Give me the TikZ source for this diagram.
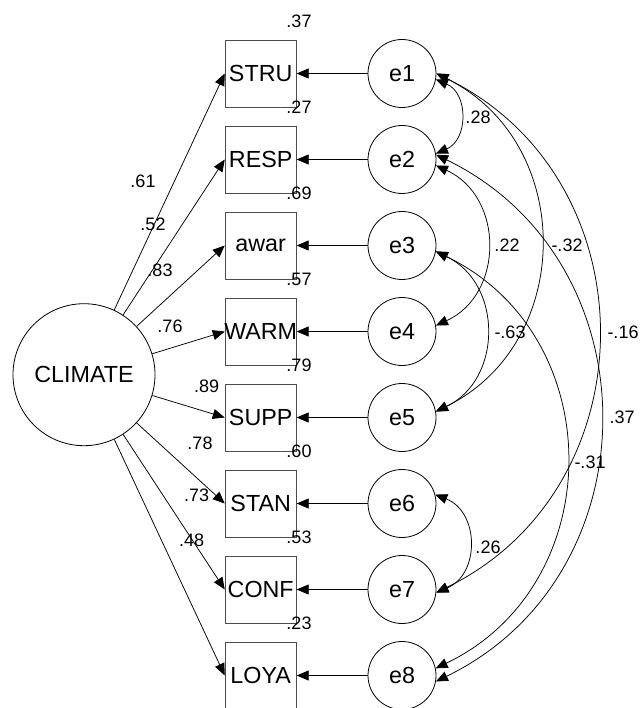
\documentclass[tikz,border=0pt]{standalone}
\usepackage{fontspec}
\setmainfont{Liberation Sans}
\usetikzlibrary{arrows.meta}
\newcommand\zbox[1]{\makebox[0pt]{#1}}
\begin{document}
\begin{tikzpicture}[x=1pt,y=-1pt,
  obs/.style={draw=black!70, line width=0.9pt, minimum width=71pt, minimum height=67pt, inner sep=0pt, font=\fontsize{23.3}{25}\selectfont},
  err/.style={draw, circle, line width=0.8pt, minimum size=68pt, inner sep=0pt, font=\fontsize{23.3}{25}\selectfont},
  lat/.style={draw, circle, line width=0.8pt, minimum size=142pt, inner sep=0pt, font=\fontsize{23.3}{25}\selectfont},
  num/.style={font=\fontsize{18}{20}\selectfont, inner sep=0pt},
  arr/.style={-{Triangle[length=12pt,width=10pt]}, line width=0.75pt},
  cov/.style={{Triangle[length=12pt,width=10pt]}-{Triangle[length=12pt,width=10pt]}, line width=0.75pt}
]
\useasboundingbox (0,0) rectangle (641,708);

% latent
\node[lat] (clim) at (84,374.7) {CLIMATE};

% observed boxes
\node[obs] (stru) at (260.7,73.5)  {\zbox{STRU}};
\node[obs] (resp) at (260.7,159.5) {\zbox{RESP}};
\node[obs] (awar) at (260.7,245.5) {\zbox{awar}};
\node[obs] (warm) at (260.7,331.5) {\zbox{WARM}};
\node[obs] (supp) at (260.7,417.5) {\zbox{SUPP}};
\node[obs] (stan) at (260.7,503.5) {\zbox{STAN}};
\node[obs] (conf) at (260.7,589.5) {\zbox{CONF}};
\node[obs] (loya) at (260.7,675.5) {\zbox{LOYA}};

% error circles
\node[err] (e1) at (402,73.5)  {e1};
\node[err] (e2) at (402,159.5) {e2};
\node[err] (e3) at (402,245.5) {e3};
\node[err] (e4) at (402,331.5) {e4};
\node[err] (e5) at (402,417.5) {e5};
\node[err] (e6) at (402,503.5) {e6};
\node[err] (e7) at (402,589.5) {e7};
\node[err] (e8) at (402,675.5) {e8};

% loadings
\foreach \b in {stru,resp,awar,warm,supp,stan,conf,loya}
  \draw[arr] (clim) -- (\b.west);

% error paths
\draw[arr] (e1) -- (stru);
\draw[arr] (e2) -- (resp);
\draw[arr] (e3) -- (awar);
\draw[arr] (e4) -- (warm);
\draw[arr] (e5) -- (supp);
\draw[arr] (e6) -- (stan);
\draw[arr] (e7) -- (conf);
\draw[arr] (e8) -- (loya);

% covariances
\draw[cov] (e1.-10) to[bend left=67, looseness=1.225] (e2.10);
\draw[cov] (e2.-10) to[bend left=65.5, looseness=1.204] (e4.10);
\draw[cov] (e1.0) to[bend left=63.7, looseness=1.179] (e5.10);
\draw[cov] (e3.-10) to[bend left=64.4, looseness=1.189] (e5.10);
\draw[cov] (e1.0) to[bend left=64, looseness=1.184] (e7.-5);
\draw[cov] (e2.8) to[bend left=64.1, looseness=1.185] (e8.-10);
\draw[cov] (e3.-10) to[bend left=64.3, looseness=1.188] (e8.12);
\draw[cov] (e6.15) to[bend left=68, looseness=1.24] (e7.-5);

% R squared
\node[num] (r1) at (299,21)  {.37};
\node[num] (r2) at (299,107) {.27};
\node[num] (r3) at (299,193) {.69};
\node[num] (r4) at (299,279) {.57};
\node[num] (r5) at (299,365) {.79};
\node[num] (r6) at (299,451) {.60};
\node[num] (r7) at (299,537) {.53};
\node[num] (r8) at (299,623) {.23};

% loading labels
\node[num] (l1) at (143,181)   {.61};
\node[num] (l2) at (153,224)   {.52};
\node[num] (l3) at (160,270.7) {.83};
\node[num] (l4) at (170,326)   {.76};
\node[num] (l5) at (206.7,386.7) {.89};
\node[num] (l6) at (200,443)   {.78};
\node[num] (l7) at (196.7,495) {.73};
\node[num] (l8) at (191.7,540) {.48};

% covariance labels
\node[num] (c1) at (478,117) {.28};
\node[num] (c2) at (507,245) {.22};
\node[num] (c3) at (567,245) {-.32};
\node[num] (c4) at (510,332) {-.63};
\node[num] (c5) at (623,332) {-.16};
\node[num] (c6) at (622,417) {.37};
\node[num] (c7) at (590,462) {-.31};
\node[num] (c8) at (488,547) {.26};
\end{tikzpicture}
\end{document}
